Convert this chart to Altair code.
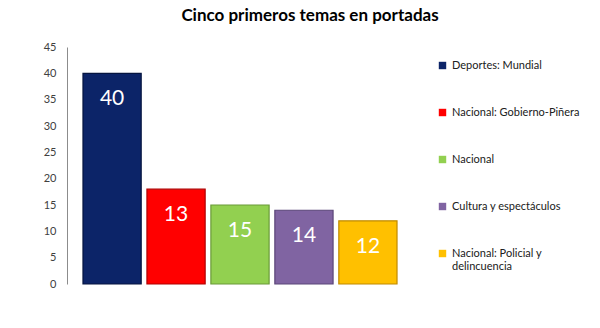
import altair as alt
import pandas as pd

categories = ["Deportes: Mundial", "Nacional: Gobierno-Piñera", "Nacional",
              "Cultura y espectáculos", "Nacional: Policial y\ndelincuencia"]
bar_heights = [40, 18, 15, 14, 12]
bar_labels = ["40", "13", "15", "14", "12"]
colors = ["#0c2468", "#ff0000", "#92d050", "#8064a2", "#ffc000"]
strokes = ["#061540", "#b00000", "#6a9a38", "#5a4678", "#c08a00"]
y_ticks = [0, 5, 10, 15, 20, 25, 30, 35, 40, 45]

df = pd.DataFrame({"cat": categories, "value": bar_heights, "label": bar_labels,
                   "stroke": strokes})

FONT = "Lato"

x = alt.X("cat:N", sort=categories, axis=None,
          scale=alt.Scale(paddingInner=0.09, paddingOuter=0.25))
y = alt.Y("value:Q", scale=alt.Scale(domain=[0, 45], nice=False),
          axis=alt.Axis(values=y_ticks, title=None, ticks=False, grid=False,
                        domainColor="#8c8c8c", labelColor="#404040",
                        labelFont=FONT, labelFontSize=11, labelPadding=11))

bars = alt.Chart(df).mark_bar(strokeWidth=1.2).encode(
    x=x, y=y,
    color=alt.Color("cat:N", sort=categories,
                    scale=alt.Scale(domain=categories, range=colors),
                    legend=alt.Legend(
                        title=None, orient="none", legendX=370, legendY=13,
                        symbolType="square", symbolSize=55, symbolStrokeWidth=1,
                        labelFont=FONT, labelFontSize=11, labelColor="#202020",
                        rowPadding=35, labelLimit=200, symbolOffset=0,
                        labelExpr="split(datum.label, '\\n')")),
    stroke=alt.Stroke("stroke:N", scale=None),
)

labels = alt.Chart(df).mark_text(color="white", font=FONT, fontSize=21,
                                 baseline="middle", dy=26).encode(
    x=x, y=y, text="label:N")

chart = alt.layer(bars, labels).properties(
    width=346, height=237,
    background="white",
    title=alt.TitleParams("Cinco primeros temas en portadas", font=FONT,
                          fontSize=17, fontWeight="bold", color="#000000",
                          anchor="middle", dx=70, offset=16),
    autosize=alt.AutoSizeParams(type="none"),
    padding={"left": 67, "top": 47, "right": 187, "bottom": 44},
).configure_view(stroke=None)

chart.save("out.html", embed_options={"renderer": "svg", "actions": False})
